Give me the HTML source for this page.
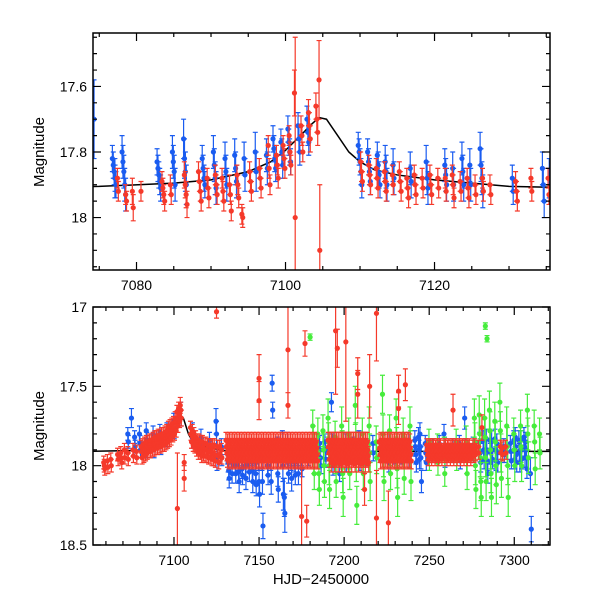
<!DOCTYPE html>
<html><head><meta charset="utf-8"><style>
html,body{margin:0;padding:0;background:#fff;}
svg{display:block;font-family:"Liberation Sans",sans-serif;}
</style></head><body>
<svg id="chart" width="600" height="600" viewBox="0 0 600 600">
<defs>
<clipPath id="clipTop"><rect x="93" y="33" width="457" height="237"/></clipPath>
<clipPath id="clipBot"><rect x="93" y="307" width="457" height="238"/></clipPath>
</defs>
<g id="topPanel"></g>
<g id="botPanel"></g>
<text transform="translate(44,152) rotate(-90)" text-anchor="middle" font-size="15">Magnitude</text>
<text transform="translate(44,426) rotate(-90)" text-anchor="middle" font-size="15">Magnitude</text>
<text x="321" y="584" text-anchor="middle" font-size="15">HJD−2450000</text>
</svg>
<script>
// ---- data ----
const modelT = [7050,7075,7085,7090,7095,7098,7100,7102,7103.5,7104.5,7105.5,7107,7108.5,7110,7112,7115,7120,7125,7130,7140,7200,7330];
const modelM = [17.91,17.905,17.895,17.885,17.86,17.83,17.795,17.75,17.715,17.695,17.70,17.75,17.80,17.83,17.855,17.87,17.885,17.895,17.905,17.91,17.91,17.91];

// clusters: [day, error, mag, mag, ...]
const blueTop = [[7074.3,.12,17.70],[7077,.04,17.82,17.84,17.86,17.88,17.9],[7077.1,.06,17.88],[7078.3,.05,17.80,17.83,17.86,17.9,17.93],[7083,.04,17.83,17.85,17.87,17.89,17.91],[7085,.05,17.80,17.83,17.86,17.9],[7086.5,.06,17.76,17.82,17.86,17.9],[7089,.04,17.82,17.85,17.88,17.9],[7090.5,.05,17.80,17.84,17.88,17.91],[7092,.05,17.82,17.86,17.9],[7093.3,.05,17.81,17.85,17.89],[7094.5,.05,17.82,17.87],[7096,.06,17.80,17.86],[7097.5,.05,17.81,17.85],[7098.5,.04,17.76,17.79,17.82,17.85],[7099.5,.04,17.77,17.8,17.84],[7100.5,.04,17.73,17.77,17.8,17.83],[7101.8,.04,17.72,17.76,17.8],[7103,.04,17.7,17.74,17.77],[7110,.04,17.78,17.8,17.83,17.86,17.9],[7111.2,.04,17.8,17.83,17.86,17.89],[7112.5,.04,17.81,17.84,17.87,17.9],[7113.5,.05,17.83,17.86,17.9],[7114.5,.05,17.84,17.88],[7116.8,.05,17.85,17.89],[7119,.05,17.83,17.88,17.91],[7121.5,.05,17.84,17.87,17.9],[7122.5,.05,17.85,17.9],[7123.8,.05,17.82,17.86,17.9],[7124.8,.05,17.84,17.9],[7126.3,.05,17.79,17.84,17.88,17.92],[7130.5,.04,17.88,17.92],[7134.6,.05,17.85,17.9,17.95],[7135.4,.06,17.88]];
const redTop = [[7077.5,.03,17.88,17.92],[7078.6,.03,17.93,17.95],[7079.5,.04,17.92,17.97],[7080.6,.03,17.92],[7083.6,.03,17.89,17.91,17.93,17.95],[7084.6,.03,17.9,17.93],[7086.6,.04,17.87,17.9,17.93,17.96],[7088.5,.03,17.86,17.89,17.92,17.95],[7089.6,.03,17.88,17.91,17.94],[7090.7,.03,17.87,17.9,17.93],[7091.6,.03,17.88,17.92,17.95],[7092.6,.03,17.9,17.93,17.98],[7093.6,.03,17.87,17.9,17.94],[7094.2,.03,17.99,18.0],[7095.3,.03,17.86,17.89,17.92],[7096.6,.03,17.85,17.88,17.91],[7097.8,.03,17.78,17.85,17.9],[7098.9,.03,17.81,17.84,17.88],[7099.8,.03,17.78,17.82,17.85],[7100.6,.03,17.75,17.8,17.84],[7101.2,.07,17.62],[7101.3,.55,18.0],[7102.2,.03,17.72,17.75,17.8],[7103.2,.04,17.68,17.72,17.76],[7104.2,.04,17.66,17.7,17.74],[7104.5,.12,17.58],[7104.6,.2,18.1],[7110.2,.03,17.83,17.86,17.89],[7111.3,.03,17.84,17.87,17.9],[7112.3,.03,17.85,17.88,17.91],[7113.4,.03,17.86,17.89,17.92],[7114.4,.03,17.87,17.9],[7115.4,.03,17.86,17.89,17.92],[7116.4,.03,17.88,17.91,17.94],[7117.4,.03,17.87,17.9,17.93],[7118.4,.03,17.88,17.91],[7119.5,.03,17.87,17.9,17.93],[7120.5,.03,17.88,17.91],[7121.5,.03,17.88,17.92],[7122.5,.03,17.87,17.9,17.94],[7123.5,.03,17.89,17.92],[7124.5,.03,17.88,17.91,17.94],[7125.5,.03,17.9,17.93],[7126.5,.03,17.88,17.92],[7127.5,.03,17.9,17.93],[7131,.03,17.89,17.92,17.95],[7133,.03,17.88,17.92],[7135.3,.03,17.88,17.93]];

const blueBot = [[7075,.06,17.7],[7073,.04,17.8,17.85],[7077,.04,17.82,17.88],[7080,.05,17.8,17.86,17.9],[7084,.05,17.78,17.84,17.9],[7088,.05,17.8,17.85,17.9],[7092,.05,17.79,17.84,17.88],[7096,.05,17.78,17.83],[7100,.05,17.72,17.78],[7104,.05,17.65,17.7],[7111,.05,17.78,17.84],[7116,.05,17.82,17.88],[7121,.05,17.84,17.9],[7125,.08,17.72,17.8,17.95],[7128,.05,17.88,17.95],
[7132,.06,17.93,17.98,18.03,18.08],[7134,.06,17.95,18.05],[7136,.06,17.92,18.0,18.05],[7138,.07,17.96,18.04,18.1],[7140,.06,17.95,18.02,18.06],[7142,.07,17.9,18.0,18.08],[7144,.06,17.9,17.98,18.04],[7146,.07,17.93,18.03,18.1],[7148,.07,17.92,18.05,18.12],[7150,.08,17.95,18.1,18.18],[7152,.08,17.95,18.1,18.38],[7155,.06,17.92,18.0,18.06],[7157,.08,17.95,18.1],[7158,.05,17.48,17.65,17.9],[7161,.08,17.9,18.05,18.15],[7164,.1,17.88,18.0,18.18],[7165,.12,18.2,18.3],[7167,.06,17.85,17.95,18.05],[7169,.08,17.95,18.08],[7171,.06,17.9,17.98,18.06],[7173,.07,17.95,18.05],[7175,.05,17.88,17.95,18.02],[7179,.05,17.9,17.95],
[7186,.05,17.86,17.9,17.95,18.0],[7189,.05,17.85,17.9,17.96],[7193,.06,17.6,17.86,17.93,18.0],[7197,.05,17.88,17.94,18.05],[7201,.06,17.86,17.92,17.98],[7205,.05,17.87,17.93],[7209,.06,17.84,17.9,17.97],[7213,.05,17.88,17.95],[7217,.05,17.86,17.92],[7222,.05,17.88,17.93],[7226,.06,17.85,17.92,17.98],[7230,.05,17.88,17.94],[7234,.06,17.86,17.93],[7238,.05,17.84,17.9,17.97],[7242,.06,17.84,17.88,17.93,17.98],[7244,.06,17.82,17.9,17.96],[7245,.07,17.8,17.88,17.95,18.1],[7248,.05,17.86,17.92,17.98],[7252,.05,17.88,17.93],[7256,.05,17.86,17.92],[7259,.06,17.8,17.88,17.95],[7264,.05,17.88,17.93],[7268,.05,17.86,17.92,17.97],[7271,.07,17.7,17.9],[7276,.05,17.87,17.93],[7280,.06,17.85,17.92,17.98],[7282,.06,17.84,17.9,17.96],[7284,.06,17.83,17.9,17.97,18.05],[7286,.06,17.84,17.92,17.98],[7287,.06,17.84,17.9,17.96],[7289,.06,17.83,17.9,17.97],[7290,.06,17.86,17.92,17.98],[7294,.05,17.88,17.93],[7298,.05,17.86,17.91,17.97],[7300,.06,17.84,17.9,17.96],[7301,.06,17.82,17.88,17.93,17.98],[7303,.06,17.84,17.92,17.98],[7304,.06,17.84,17.9,17.96],[7306,.06,17.82,17.88,17.95],[7307,.06,17.85,17.9,17.95,18.02],[7309.5,.1,18.05],[7310,.08,18.4]];

const greenBot = [[7180,.02,17.19],[7283,.02,17.12],[7284,.02,17.2],
[7182,.1,17.75,17.85,17.95,18.05],[7185,.1,17.8,17.92,18.05,18.15],[7188,.1,17.78,17.9,18.0,18.1],[7191,.12,17.7,17.85,18.0,18.15],[7195,.1,17.82,17.95,18.1],[7199,.12,17.75,17.9,18.05,18.2],[7203,.1,17.8,17.92,18.05],[7207,.12,17.62,17.85,17.98,18.25],[7211,.1,17.8,17.9,18.05],[7215,.12,17.75,17.92,18.1],[7219,.1,17.85,17.95],[7223,.12,17.55,17.8,17.95,18.1],[7227,.1,17.78,17.9,18.05],[7231,.12,17.7,17.88,18.02,18.2],[7235,.1,17.8,17.92,18.08],[7239,.12,17.75,17.9,18.1],[7250,.08,17.85,17.95],[7255,.08,17.88,17.98],[7259,.08,17.9,18.05],[7266,.08,17.85,17.95],[7272,.1,17.85,17.95,18.05],
[7277,.12,17.7,17.85,18.0,18.15],[7280,.12,17.68,17.8,17.95,18.1,18.2],[7283,.12,17.7,17.82,17.95,18.1],[7286,.12,17.65,17.78,17.9,18.05,18.2],[7289,.12,17.72,17.85,18.0,18.12],[7292,.12,17.6,17.78,17.92,18.08],[7296,.12,17.75,17.88,18.0,18.2],[7300,.1,17.8,17.9,18.0],[7304,.1,17.75,17.88,18.0],[7308,.1,17.65,17.8,17.95],[7312,.1,17.75,17.85,18.02],[7315,.1,17.8,17.92]];

const redBot = [[7059,.04,17.98,18.0,18.02],[7061,.04,17.97,18.01],[7063,.04,17.96,18.0],[7067,.04,17.93,17.96],[7069,.04,17.92,17.95,17.98],[7071,.04,17.9,17.95],[7073,.04,17.92,17.96],[7076,.04,17.9,17.94],[7078,.04,17.91,17.95],
[7081,.04,17.88,17.91,17.95],[7082,.04,17.87,17.9,17.94],[7083,.04,17.86,17.9,17.93],[7084,.04,17.85,17.88,17.92],[7085,.04,17.85,17.88,17.91],[7086,.04,17.84,17.87,17.91],[7087,.04,17.84,17.87,17.9],[7088,.04,17.83,17.86,17.9],[7089,.04,17.82,17.86,17.89],[7090,.04,17.82,17.85,17.89],[7091,.04,17.81,17.85,17.88],[7092,.04,17.81,17.84,17.88],[7093,.04,17.8,17.84,17.87],[7094,.04,17.8,17.83,17.87],[7095,.04,17.79,17.82,17.86],[7096,.04,17.78,17.81,17.85],[7097,.04,17.76,17.8,17.84],[7098,.04,17.75,17.78,17.83],[7099,.04,17.74,17.77,17.81],[7100,.04,17.73,17.76,17.8],[7101,.04,17.7,17.73,17.78],[7102,.04,17.66,17.7,17.75],[7103,.04,17.64,17.68,17.72],[7104,.05,17.62,17.65,17.7],[7102,.35,18.27],[7106,.08,18.08],[7106,.05,17.98],
[7110,.04,17.76,17.8,17.85],[7111,.04,17.78,17.82,17.87],[7112,.04,17.8,17.84,17.88],[7113,.04,17.82,17.86,17.9],[7114,.04,17.84,17.88,17.92],[7115,.04,17.84,17.88,17.92],[7116,.04,17.85,17.9,17.94],[7117,.04,17.85,17.89,17.93],[7118,.04,17.86,17.9,17.94],[7119,.04,17.86,17.9,17.94],[7120,.04,17.87,17.91,17.95],[7121,.04,17.87,17.91,17.95],[7122,.04,17.88,17.92,17.96],[7123,.04,17.87,17.92,17.96],[7124,.04,17.87,17.93,17.97],[7126,.04,17.88,17.94,17.98],[7127,.04,17.88,17.93],[7128,.04,17.9,17.95],[7125,.04,17.03],
[7131,.05,17.84,17.88,17.92,17.96],[7132,.05,17.85,17.89,17.93,17.97],[7133,.05,17.84,17.88,17.92,17.96],[7134,.05,17.85,17.89,17.93,17.97],[7135,.05,17.84,17.88,17.92,17.96],[7136,.05,17.85,17.89,17.93,17.97],[7137,.05,17.84,17.88,17.92,17.96],[7138,.05,17.85,17.89,17.93,17.97],[7139,.05,17.84,17.88,17.92,17.96],[7140,.05,17.85,17.89,17.93,17.97],[7141,.05,17.84,17.88,17.92,17.96],[7142,.05,17.85,17.89,17.93,17.97],[7143,.05,17.84,17.88,17.92,17.96],[7144,.05,17.85,17.89,17.93,17.97],[7145,.05,17.84,17.88,17.92,17.96],[7146,.05,17.85,17.89,17.93,17.97],[7147,.05,17.84,17.88,17.92,17.96],[7148,.05,17.85,17.89,17.93,17.97],[7149,.05,17.84,17.88,17.92,17.96],[7150,.05,17.85,17.89,17.93,17.97],[7151,.05,17.84,17.88,17.92,17.96],[7152,.05,17.85,17.89,17.93,17.97],[7153,.05,17.84,17.88,17.92,17.96],[7154,.05,17.85,17.89,17.93,17.97],[7155,.05,17.84,17.88,17.92,17.96],[7156,.05,17.85,17.89,17.93,17.97],[7157,.05,17.84,17.88,17.92,17.96],[7158,.05,17.85,17.89,17.93,17.97],[7159,.05,17.84,17.88,17.92,17.96],[7160,.05,17.85,17.89,17.93,17.97],[7161,.05,17.84,17.88,17.92,17.96],[7162,.05,17.85,17.89,17.93,17.97],[7163,.05,17.84,17.88,17.92,17.96],[7164,.05,17.85,17.89,17.93,17.97],[7165,.05,17.84,17.88,17.92,17.96],[7166,.05,17.85,17.89,17.93,17.97],[7167,.05,17.84,17.88,17.92,17.96],[7168,.05,17.85,17.89,17.93,17.97],[7169,.05,17.84,17.88,17.92,17.96],[7170,.05,17.85,17.89,17.93,17.97],[7171,.05,17.84,17.88,17.92,17.96],[7172,.05,17.85,17.89,17.93,17.97],[7173,.05,17.84,17.88,17.92,17.96],[7174,.05,17.85,17.89,17.93,17.97],[7175,.05,17.84,17.88,17.92,17.96],[7176,.05,17.85,17.89,17.93,17.97],[7177,.05,17.84,17.88,17.92,17.96],[7178,.05,17.85,17.89,17.93,17.97],[7179,.05,17.84,17.88,17.92,17.96],[7180,.05,17.85,17.89,17.93,17.97],[7181,.05,17.84,17.88,17.92,17.96],[7182,.05,17.85,17.89,17.93,17.97],[7183,.05,17.84,17.88,17.92,17.96],[7184,.05,17.85,17.89,17.93,17.97],
[7150,.15,17.45],[7150,.12,17.59],[7167,.35,17.27],[7167,.08,17.62],[7175,.3,18.32],[7177,.08,17.23],[7178,.1,18.35],[7195,.4,17.15],[7196,.12,17.26],[7201,.5,17.22],[7208,.1,17.42],[7208,.15,17.55],[7212,.1,18.15],[7215,.2,17.5],[7219,.3,17.04],[7219,.3,18.33],[7226,.2,18.36],[7232,.1,17.53],[7232,.1,17.64],[7236,.1,17.49],[7264,.1,17.65],[7281,.08,17.76],
[7191,.05,17.84,17.88,17.92,17.96],[7192,.06,17.85,17.89,17.93,17.98],[7193,.05,17.84,17.88,17.92,17.96],[7194,.06,17.85,17.9,17.94,17.98],[7195,.05,17.84,17.88,17.92,17.96],[7196,.06,17.85,17.89,17.93,17.98],[7197,.05,17.84,17.88,17.92,17.96],[7198,.06,17.85,17.9,17.94,17.98],[7199,.05,17.84,17.88,17.92,17.96],[7200,.06,17.85,17.89,17.93,17.98],[7201,.05,17.84,17.88,17.92,17.96],[7202,.06,17.85,17.9,17.94,17.98],[7203,.05,17.84,17.88,17.92,17.96],[7204,.06,17.85,17.89,17.93,17.98],[7205,.05,17.84,17.88,17.92,17.96],[7206,.06,17.85,17.9,17.94,17.98],[7207,.05,17.84,17.88,17.92,17.96],[7208,.06,17.85,17.89,17.93,17.98],[7209,.05,17.84,17.88,17.92,17.96],[7210,.06,17.85,17.9,17.94,17.98],[7211,.05,17.84,17.88,17.92,17.96],[7212,.06,17.85,17.89,17.93,17.98],[7213,.05,17.84,17.88,17.92,17.96],[7214,.06,17.85,17.9,17.94,17.98],
[7221,.05,17.85,17.89,17.93,17.97],[7222,.05,17.84,17.88,17.92,17.96],[7223,.05,17.85,17.89,17.93,17.97],[7224,.05,17.84,17.88,17.92,17.96],[7225,.05,17.85,17.89,17.93,17.97],[7226,.05,17.84,17.88,17.92,17.96],[7227,.05,17.85,17.89,17.93,17.97],[7228,.05,17.84,17.88,17.92,17.96],[7229,.05,17.85,17.89,17.93,17.97],[7230,.05,17.84,17.88,17.92,17.96],[7231,.05,17.85,17.89,17.93,17.97],[7232,.05,17.84,17.88,17.92,17.96],[7233,.05,17.85,17.89,17.93,17.97],[7234,.05,17.84,17.88,17.92,17.96],[7235,.05,17.85,17.89,17.93,17.97],[7236,.05,17.84,17.88,17.92,17.96],[7237,.05,17.85,17.89,17.93,17.97],[7238,.05,17.84,17.88,17.92,17.96],[7239,.05,17.85,17.89,17.93,17.97],
[7249,.04,17.87,17.9,17.93,17.96],[7250,.04,17.88,17.91,17.94],[7251,.04,17.87,17.9,17.93,17.96],[7252,.04,17.88,17.91,17.94],[7253,.04,17.87,17.9,17.93,17.96],[7254,.04,17.88,17.91,17.94],[7255,.04,17.87,17.9,17.93,17.96],[7256,.04,17.88,17.91,17.94],[7257,.04,17.87,17.9,17.93,17.96],[7259,.04,17.88,17.91,17.94],[7260,.04,17.87,17.9,17.93,17.96],[7261,.04,17.88,17.91,17.94],[7262,.04,17.87,17.9,17.93,17.96],[7263,.04,17.88,17.91,17.94],[7264,.04,17.87,17.9,17.93,17.96],[7265,.04,17.88,17.91,17.94],[7266,.04,17.87,17.9,17.93,17.96],[7267,.04,17.88,17.91,17.94],[7268,.04,17.87,17.9,17.93,17.96],[7269,.04,17.88,17.91,17.94],[7270,.04,17.87,17.9,17.93,17.96],[7271,.04,17.88,17.91,17.94],[7272,.04,17.87,17.9,17.93,17.96],[7273,.04,17.88,17.91,17.94],[7274,.04,17.87,17.9,17.93,17.96],[7276,.04,17.88,17.91,17.94],[7277,.04,17.87,17.9,17.93],[7279,.04,17.88,17.92],[7292,.04,17.88,17.92],[7293,.04,17.89,17.93],[7295,.04,17.88,17.92]];

const topXTicks = [7080,7100,7120];
const topYTicks = [17.6,17.8,18];
const botXTicks = [7100,7150,7200,7250,7300];
const botYTicks = [17,17.5,18,18.5];
const botYLabels = ["17","17.5","18","18.5"];

// ---- layout ----
const NS = "http://www.w3.org/2000/svg";
const L = 93, R = 550;
const topCfg = {x0:7074.16, x1:7135.5, y0:17.437, y1:18.16, top:33, bot:270, minX:5, minY:0.05, spread:0.12, clip:"clipTop"};
const botCfg = {x0:7052.4, x1:7321, y0:17.0, y1:18.5, top:307, bot:545, minX:10, minY:0.1, spread:0.3, clip:"clipBot"};
function mk(tag, attrs, parent){const e=document.createElementNS(NS,tag);for(const k in attrs)e.setAttribute(k,attrs[k]);parent.appendChild(e);return e;}
function sx(c,t){return L+(t-c.x0)/(c.x1-c.x0)*(R-L);}
function sy(c,m){return c.top+(m-c.y0)/(c.y1-c.y0)*(c.bot-c.top);}

function drawSeries(g,c,data,color,name){
  const sg = mk('g',{'clip-path':'url(#'+c.clip+')'},g);
  
  
  data.forEach(cl=>{
    const t=cl[0], e=cl[1], ms=cl.slice(2), n=ms.length;
    ms.forEach((m,i)=>{
      const x=sx(c,t+(i-(n-1)/2)*c.spread), y=sy(c,m), ya=sy(c,m-e), yb=sy(c,m+e);
      const p = mk('path',{d:`M${x},${ya}V${yb}M${x-2.5},${ya}H${x+2.5}M${x-2.5},${yb}H${x+2.5}`,stroke:color,'stroke-width':1.2,fill:'none'},sg);
      
      
      const d = mk('circle',{cx:x,cy:y,r:2.6,fill:color},sg);
      
      
    });
  });
}
function drawModel(g,c){
  const pts = modelT.map((t,i)=>sx(c,t)+','+sy(c,modelM[i])).join(' ');
  const pl = mk('polyline',{points:pts,fill:'none',stroke:'#000','stroke-width':1.5,'clip-path':'url(#'+c.clip+')'},g);
  
  
}
function drawAxes(g,c,xt,yt,ylab){
  const fr = mk('rect',{x:L,y:c.top,width:R-L,height:c.bot-c.top,fill:'none',stroke:'#000','stroke-width':1.5},g);
  
  
  let d='';
  for(let t=Math.ceil(c.x0/c.minX)*c.minX;t<=c.x1;t+=c.minX){
    const x=sx(c,t), maj = xt.some(v=>Math.abs(v-t)<1e-6), len = maj?8:4;
    d+=`M${x},${c.bot}v${-len}M${x},${c.top}v${len}`;
  }
  for(let k=Math.ceil(c.y0/c.minY-1e-6);k*c.minY<=c.y1+1e-6;k++){
    const m=k*c.minY, y=sy(c,m), maj = yt.some(v=>Math.abs(v-m)<1e-6), len = maj?8:4;
    d+=`M${L},${y}h${len}M${R},${y}h${-len}`;
  }
  const tk = mk('path',{d:d,stroke:'#000','stroke-width':1.2,fill:'none'},g);
  
  
  xt.forEach(t=>{
    const tx = mk('text',{x:sx(c,t),y:c.bot+20,'text-anchor':'middle','font-size':14},g);
    tx.textContent=String(t);
    
    
  });
  yt.forEach((m,i)=>{
    const ty = mk('text',{x:L-6,y:sy(c,m)+5,'text-anchor':'end','font-size':14},g);
    ty.textContent = ylab ? ylab[i] : String(m);
    
    
  });
}
const gt=document.getElementById('topPanel'), gb=document.getElementById('botPanel');
drawModel(gt,topCfg);
drawSeries(gt,topCfg,blueTop,'#1a5cf0','blue-series');
drawSeries(gt,topCfg,redTop,'#f5392a','red-series');
drawAxes(gt,topCfg,topXTicks,topYTicks,null);
drawModel(gb,botCfg);
drawSeries(gb,botCfg,blueBot,'#1a5cf0','blue-series');
drawSeries(gb,botCfg,greenBot,'#46ec3c','green-series');
drawSeries(gb,botCfg,redBot,'#f5392a','red-series');
drawAxes(gb,botCfg,botXTicks,botYTicks,botYLabels);
</script>
</body></html>
